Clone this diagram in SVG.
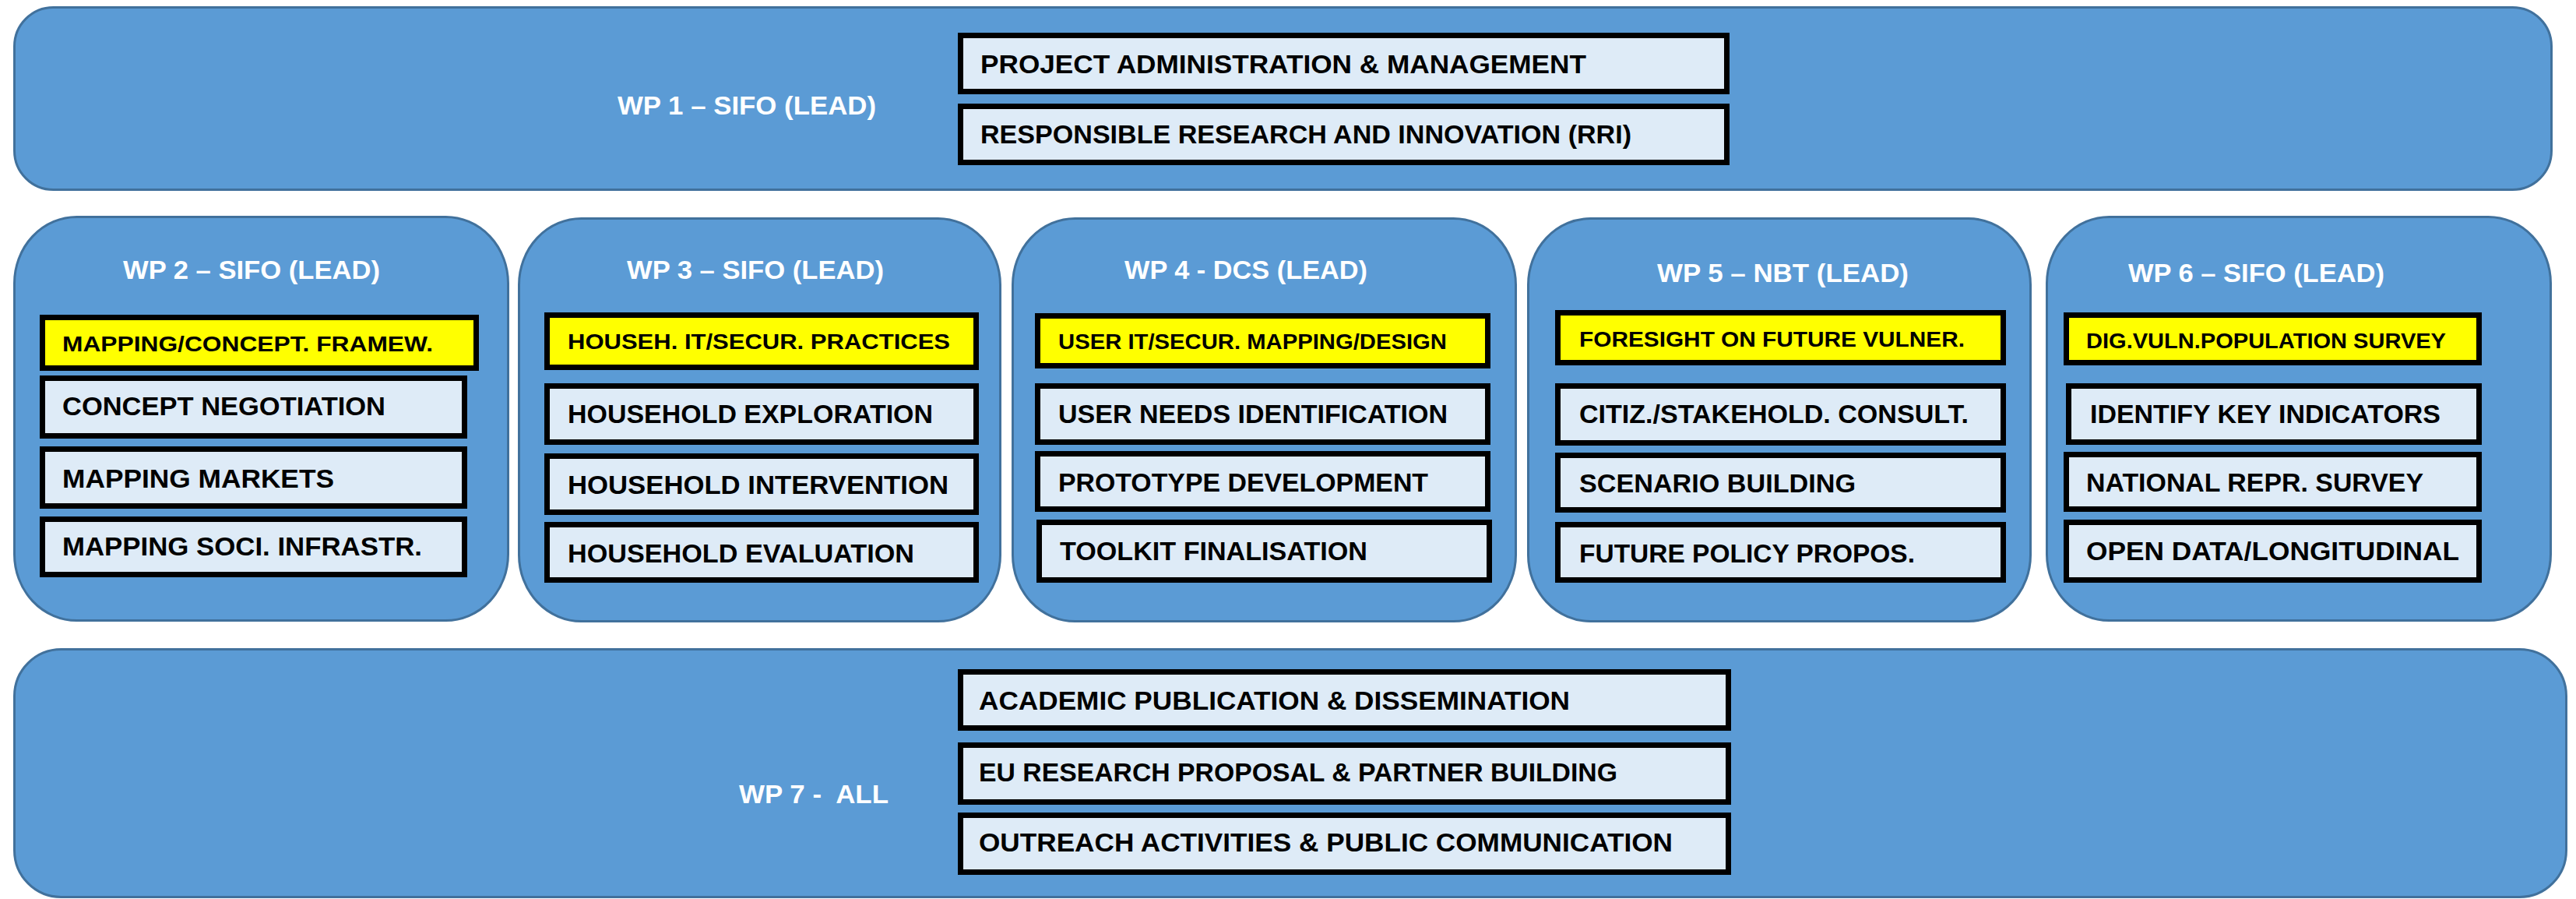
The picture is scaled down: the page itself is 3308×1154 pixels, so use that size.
<svg xmlns="http://www.w3.org/2000/svg" width="3308" height="1154" viewBox="0 0 3308 1154">
<style>
.wp{fill:#5B9BD5;stroke:#41719C;stroke-width:3}
.box{fill:#DEEBF7;stroke:#000;stroke-width:7}
.hl{fill:#FFFF00;stroke:#000;stroke-width:7}
.lbl{font-family:"Liberation Sans",Arial,sans-serif;font-weight:bold;font-size:34px;fill:#FFFFFF}
.t{font-family:"Liberation Sans",Arial,sans-serif;font-weight:bold;font-size:33px;fill:#000}
.ty{font-family:"Liberation Sans",Arial,sans-serif;font-weight:bold;font-size:27px;fill:#000}
</style>
<rect width="3308" height="1154" fill="#FFFFFF"/>
<g id="connectors"></g>

<g id="wp1">
<rect class="wp" x="18.5" y="9.5" width="3258" height="234" rx="50" ry="50"/>
<text class="lbl" x="793" y="147" textLength="332" lengthAdjust="spacingAndGlyphs">WP 1 – SIFO (LEAD)</text>
<rect class="box" x="1233.5" y="45.5" width="984" height="72"/>
<text class="t" x="1259" y="94" textLength="778" lengthAdjust="spacingAndGlyphs">PROJECT ADMINISTRATION &amp; MANAGEMENT</text>
<rect class="box" x="1233.5" y="136.5" width="984" height="72"/>
<text class="t" x="1259" y="184" textLength="836" lengthAdjust="spacingAndGlyphs">RESPONSIBLE RESEARCH AND INNOVATION (RRI)</text>
</g>

<g id="wp2">
<rect class="wp" x="18.5" y="278.5" width="634" height="518" rx="80" ry="85"/>
<text class="lbl" x="158" y="358" textLength="330" lengthAdjust="spacingAndGlyphs">WP 2 – SIFO (LEAD)</text>
<rect class="hl" x="54.5" y="407.5" width="557" height="65"/>
<text class="ty" x="80" y="451" textLength="476" lengthAdjust="spacingAndGlyphs">MAPPING/CONCEPT. FRAMEW.</text>
<rect class="box" x="54.5" y="485.5" width="542" height="74"/>
<text class="t" x="80" y="533" textLength="415" lengthAdjust="spacingAndGlyphs">CONCEPT NEGOTIATION</text>
<rect class="box" x="54.5" y="576.5" width="542" height="73"/>
<text class="t" x="80" y="626" textLength="349" lengthAdjust="spacingAndGlyphs">MAPPING MARKETS</text>
<rect class="box" x="54.5" y="666.5" width="542" height="71"/>
<text class="t" x="80" y="713" textLength="462" lengthAdjust="spacingAndGlyphs">MAPPING SOCI. INFRASTR.</text>
</g>

<g id="wp3">
<rect class="wp" x="666.5" y="280.5" width="618" height="517" rx="80" ry="85"/>
<text class="lbl" x="805" y="358" textLength="330" lengthAdjust="spacingAndGlyphs">WP 3 – SIFO (LEAD)</text>
<rect class="hl" x="702.5" y="404.5" width="551" height="67"/>
<text class="ty" x="729" y="448" textLength="491" lengthAdjust="spacingAndGlyphs">HOUSEH. IT/SECUR. PRACTICES</text>
<rect class="box" x="702.5" y="495.5" width="551" height="72"/>
<text class="t" x="729" y="543" textLength="469" lengthAdjust="spacingAndGlyphs">HOUSEHOLD EXPLORATION</text>
<rect class="box" x="702.5" y="585.5" width="551" height="72"/>
<text class="t" x="729" y="634" textLength="489" lengthAdjust="spacingAndGlyphs">HOUSEHOLD INTERVENTION</text>
<rect class="box" x="702.5" y="673.5" width="551" height="71"/>
<text class="t" x="729" y="722" textLength="445" lengthAdjust="spacingAndGlyphs">HOUSEHOLD EVALUATION</text>
</g>

<g id="wp4">
<rect class="wp" x="1300.5" y="280.5" width="646" height="517" rx="80" ry="85"/>
<text class="lbl" x="1444" y="358" textLength="312" lengthAdjust="spacingAndGlyphs">WP 4 - DCS (LEAD)</text>
<rect class="hl" x="1332.5" y="405.5" width="578" height="64"/>
<text class="ty" x="1359" y="448" textLength="499" lengthAdjust="spacingAndGlyphs">USER IT/SECUR. MAPPING/DESIGN</text>
<rect class="box" x="1332.5" y="495.5" width="578" height="72"/>
<text class="t" x="1359" y="543" textLength="500" lengthAdjust="spacingAndGlyphs">USER NEEDS IDENTIFICATION</text>
<rect class="box" x="1332.5" y="582.5" width="578" height="71"/>
<text class="t" x="1359" y="631" textLength="475" lengthAdjust="spacingAndGlyphs">PROTOTYPE DEVELOPMENT</text>
<rect class="box" x="1334.5" y="670.5" width="578" height="74"/>
<text class="t" x="1361" y="719" textLength="395" lengthAdjust="spacingAndGlyphs">TOOLKIT FINALISATION</text>
</g>

<g id="wp5">
<rect class="wp" x="1962.5" y="280.5" width="645" height="517" rx="80" ry="85"/>
<text class="lbl" x="2128" y="362" textLength="323" lengthAdjust="spacingAndGlyphs">WP 5 – NBT (LEAD)</text>
<rect class="hl" x="2000.5" y="401.5" width="572" height="64"/>
<text class="ty" x="2028" y="445" textLength="495" lengthAdjust="spacingAndGlyphs">FORESIGHT ON FUTURE VULNER.</text>
<rect class="box" x="2000.5" y="495.5" width="572" height="73"/>
<text class="t" x="2028" y="543" textLength="500" lengthAdjust="spacingAndGlyphs">CITIZ./STAKEHOLD. CONSULT.</text>
<rect class="box" x="2000.5" y="584.5" width="572" height="70"/>
<text class="t" x="2028" y="632" textLength="355" lengthAdjust="spacingAndGlyphs">SCENARIO BUILDING</text>
<rect class="box" x="2000.5" y="673.5" width="572" height="71"/>
<text class="t" x="2028" y="722" textLength="431" lengthAdjust="spacingAndGlyphs">FUTURE POLICY PROPOS.</text>
</g>

<g id="wp6">
<rect class="wp" x="2628.5" y="278.5" width="647" height="518" rx="80" ry="85"/>
<text class="lbl" x="2733" y="362" textLength="329" lengthAdjust="spacingAndGlyphs">WP 6 – SIFO (LEAD)</text>
<rect class="hl" x="2653.5" y="404.5" width="530" height="61"/>
<text class="ty" x="2679" y="447" textLength="462" lengthAdjust="spacingAndGlyphs">DIG.VULN.POPULATION SURVEY</text>
<rect class="box" x="2656.5" y="495.5" width="527" height="72"/>
<text class="t" x="2684" y="543" textLength="450" lengthAdjust="spacingAndGlyphs">IDENTIFY KEY INDICATORS</text>
<rect class="box" x="2653.5" y="583.5" width="530" height="70"/>
<text class="t" x="2679" y="631" textLength="433" lengthAdjust="spacingAndGlyphs">NATIONAL REPR. SURVEY</text>
<rect class="box" x="2653.5" y="670.5" width="530" height="74"/>
<text class="t" x="2679" y="719" textLength="479" lengthAdjust="spacingAndGlyphs">OPEN DATA/LONGITUDINAL</text>
</g>

<g id="wp7">
<rect class="wp" x="18.5" y="833.5" width="3277" height="318" rx="60" ry="60"/>
<text class="lbl" x="949" y="1031" textLength="192" lengthAdjust="spacingAndGlyphs" xml:space="preserve">WP 7 -  ALL</text>
<rect class="box" x="1233.5" y="862.5" width="986" height="72"/>
<text class="t" x="1257" y="911" textLength="759" lengthAdjust="spacingAndGlyphs">ACADEMIC PUBLICATION &amp; DISSEMINATION</text>
<rect class="box" x="1233.5" y="956.5" width="986" height="73"/>
<text class="t" x="1257" y="1003" textLength="820" lengthAdjust="spacingAndGlyphs">EU RESEARCH PROPOSAL &amp; PARTNER BUILDING</text>
<rect class="box" x="1233.5" y="1046.5" width="986" height="73"/>
<text class="t" x="1257" y="1093" textLength="891" lengthAdjust="spacingAndGlyphs">OUTREACH ACTIVITIES &amp; PUBLIC COMMUNICATION</text>
</g>
</svg>
